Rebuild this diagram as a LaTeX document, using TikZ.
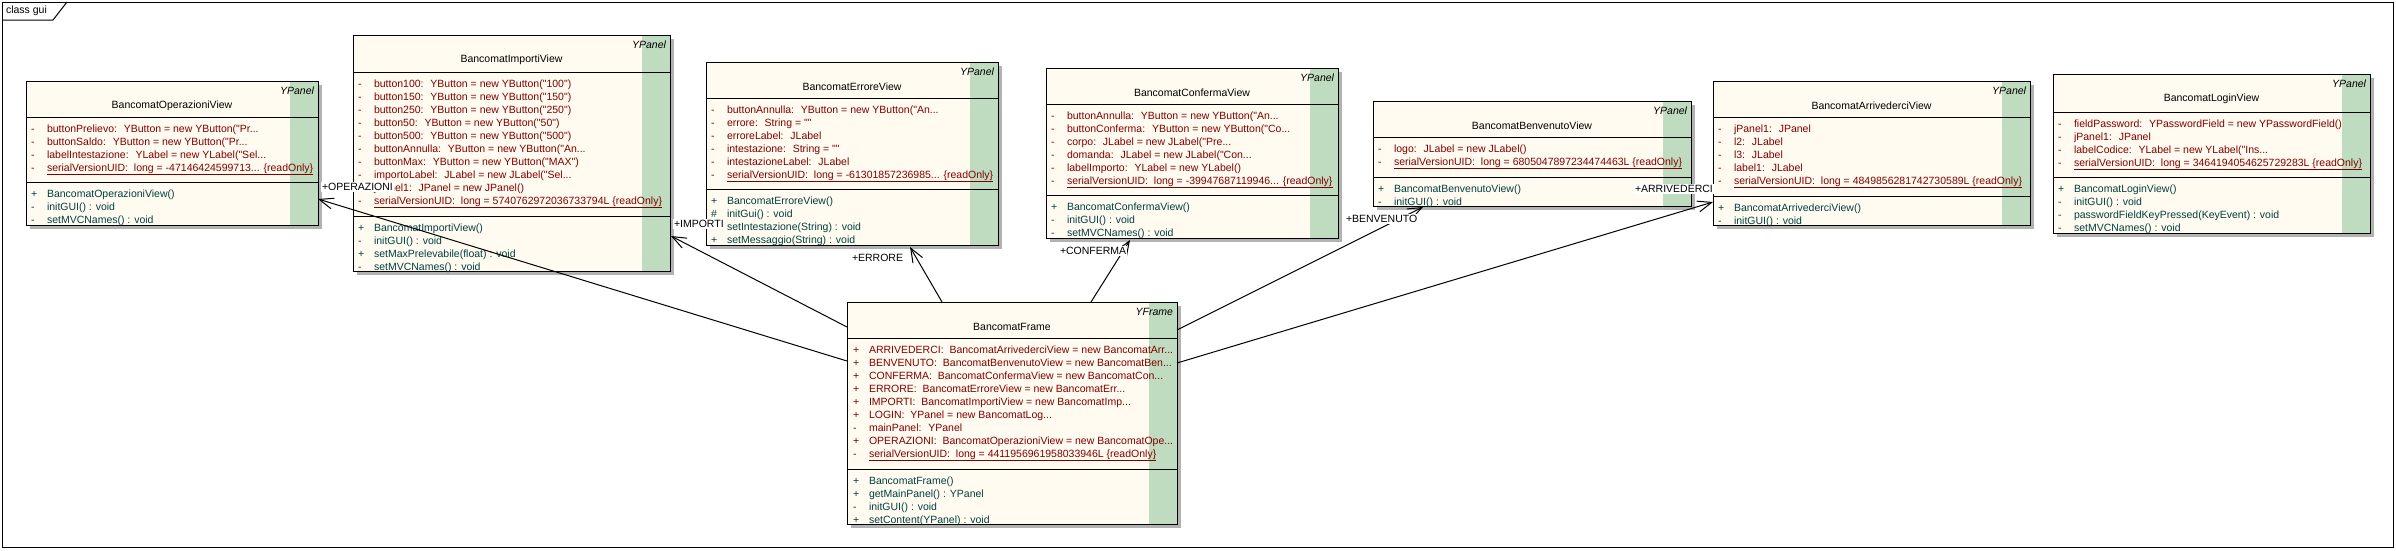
\documentclass[tikz,border=0pt]{standalone}
\usepackage{fontspec}
\setmainfont{Liberation Sans}
\newfontfamily\eafont{Liberation Sans}
\usetikzlibrary{arrows.meta,fit}

\definecolor{classfill}{RGB}{255,251,240}
\definecolor{stripegreen}{RGB}{192,220,192}
\definecolor{shadowgray}{RGB}{178,178,178}
\definecolor{attrred}{RGB}{128,0,0}
\definecolor{opteal}{RGB}{0,64,64}

\tikzset{
  eatext/.style={font=\eafont\fontsize{10.5}{12}\selectfont, inner sep=0pt, outer sep=0pt},
  attrrow/.style={eatext, text=attrred, anchor=base west},
  oprow/.style={eatext, text=opteal, anchor=base west},
  classname/.style={eatext, text=black},
  stereo/.style={eatext, font=\eafont\itshape\fontsize{10.5}{12}\selectfont, anchor=east},
  role/.style={eatext, fill=white, inner xsep=1pt, inner ysep=1.5pt, anchor=west},
  assoc/.style={-{Straight Barb[length=14pt,width=11pt]}, line width=1pt},
  boxline/.style={line width=1pt},
}

% #1 name, #2-#5 left top right bottom, #6 header line, #7 operations line, #8 stereotype, #9 class name
\newcommand{\umlclass}[9]{
  \fill[shadowgray] ({#2+4},{#3+4}) rectangle ({#4+4},{#5+4});
  \node[fit={(#2,#3) (#4,#5)}, fill=classfill, inner sep=0pt, outer sep=0pt] (#1) {};
  \fill[stripegreen] ([xshift=-28pt]#1.north east) rectangle (#1.south east);
  \draw[boxline] (#1.north west) rectangle (#1.south east);
  \draw[boxline] (#2,#6) -- (#4,#6);
  \draw[boxline] (#2,#7) -- (#4,#7);
  \node[stereo] (#1-st) at ({#4-4},{#3+10}) {#8};
  \node[classname] (#1-nm) at ({(#2+#4)/2},{#3+25}) {#9};
}
% #1 row style, #2 prefix, #3 left, #4 separator line, #5 rows
\newcommand{\members}[5]{
  \foreach \mvis/\mtxt [count=\i from 0] in {#5} {
    \node[#1] (#2-v\i) at ({#3+5},{#4+15+13*\i}) {\mvis};
    \node[#1] (#2-t\i) at ({#3+21},{#4+15+13*\i}) {\mtxt};
  }
}

\begin{document}
\begin{tikzpicture}[x=1pt,y=-1pt]
\useasboundingbox (0,0) rectangle (2396,550);

% diagram frame
\draw[boxline] (2,2) rectangle (2393,547);
\draw[boxline] (2,20) -- (53,20) -- (67,2);
\node[eatext, anchor=west] (diagname) at (6,11) {class gui};

% BancomatOperazioniView
\umlclass{operazioni}{26}{81}{318}{225}{117}{182}{YPanel}{BancomatOperazioniView}
\members{attrrow}{operazioni-a}{26}{117}{
  -/{buttonPrelievo:~ YButton = new YButton("Pr...},
  -/{buttonSaldo:~ YButton = new YButton("Pr...},
  -/{labelIntestazione:~ YLabel = new YLabel("Sel...},
  -/{\underline{serialVersionUID:~ long = -47146424599713... \{readOnly\}}}}
\members{oprow}{operazioni-o}{26}{182}{
  +/{BancomatOperazioniView()},
  -/{initGUI() : void},
  -/{setMVCNames() : void}}

% BancomatImportiView
\umlclass{importi}{353}{35}{670}{271}{72}{216}{YPanel}{BancomatImportiView}
\members{attrrow}{importi-a}{353}{72}{
  -/{button100:~ YButton = new YButton("100")},
  -/{button150:~ YButton = new YButton("150")},
  -/{button250:~ YButton = new YButton("250")},
  -/{button50:~ YButton = new YButton("50")},
  -/{button500:~ YButton = new YButton("500")},
  -/{buttonAnnulla:~ YButton = new YButton("An...},
  -/{buttonMax:~ YButton = new YButton("MAX")},
  -/{importoLabel:~ JLabel = new JLabel("Sel...},
  -/{jPanel1:~ JPanel = new JPanel()},
  -/{\underline{serialVersionUID:~ long = 5740762972036733794L \{readOnly\}}}}
\members{oprow}{importi-o}{353}{216}{
  +/{BancomatImportiView()},
  -/{initGUI() : void},
  +/{setMaxPrelevabile(float) : void},
  -/{setMVCNames() : void}}

% BancomatErroreView
\umlclass{errore}{706}{62}{998}{245}{98}{189}{YPanel}{BancomatErroreView}
\members{attrrow}{errore-a}{706}{98}{
  -/{buttonAnnulla:~ YButton = new YButton("An...},
  -/{errore:~ String = ""},
  -/{erroreLabel:~ JLabel},
  -/{intestazione:~ String = ""},
  -/{intestazioneLabel:~ JLabel},
  -/{\underline{serialVersionUID:~ long = -61301857236985... \{readOnly\}}}}
\members{oprow}{errore-o}{706}{189}{
  +/{BancomatErroreView()},
  \#/{initGui() : void},
  +/{setIntestazione(String) : void},
  +/{setMessaggio(String) : void}}

% BancomatConfermaView
\umlclass{conferma}{1046}{68}{1338}{238}{104}{195}{YPanel}{BancomatConfermaView}
\members{attrrow}{conferma-a}{1046}{104}{
  -/{buttonAnnulla:~ YButton = new YButton("An...},
  -/{buttonConferma:~ YButton = new YButton("Co...},
  -/{corpo:~ JLabel = new JLabel("Pre...},
  -/{domanda:~ JLabel = new JLabel("Con...},
  -/{labelImporto:~ YLabel = new YLabel()},
  -/{\underline{serialVersionUID:~ long = -39947687119946... \{readOnly\}}}}
\members{oprow}{conferma-o}{1046}{195}{
  +/{BancomatConfermaView()},
  -/{initGUI() : void},
  -/{setMVCNames() : void}}

% BancomatBenvenutoView
\umlclass{benvenuto}{1373}{101}{1691}{206}{137}{177}{YPanel}{BancomatBenvenutoView}
\members{attrrow}{benvenuto-a}{1373}{137}{
  -/{logo:~ JLabel = new JLabel()},
  -/{\underline{serialVersionUID:~ long = 6805047897234474463L \{readOnly\}}}}
\members{oprow}{benvenuto-o}{1373}{177}{
  +/{BancomatBenvenutoView()},
  -/{initGUI() : void}}

% BancomatArrivederciView
\umlclass{arrivederci}{1713}{81}{2030}{225}{117}{196}{YPanel}{BancomatArrivederciView}
\members{attrrow}{arrivederci-a}{1713}{117}{
  -/{jPanel1:~ JPanel},
  -/{l2:~ JLabel},
  -/{l3:~ JLabel},
  -/{label1:~ JLabel},
  -/{\underline{serialVersionUID:~ long = 4849856281742730589L \{readOnly\}}}}
\members{oprow}{arrivederci-o}{1713}{196}{
  +/{BancomatArrivederciView()},
  -/{initGUI() : void}}

% BancomatLoginView
\umlclass{login}{2053}{74}{2370}{233}{112}{177}{YPanel}{BancomatLoginView}
\members{attrrow}{login-a}{2053}{112}{
  -/{fieldPassword:~ YPasswordField = new YPasswordField()},
  -/{jPanel1:~ JPanel},
  -/{labelCodice:~ YLabel = new YLabel("Ins...},
  -/{\underline{serialVersionUID:~ long = 3464194054625729283L \{readOnly\}}}}
\members{oprow}{login-o}{2053}{177}{
  +/{BancomatLoginView()},
  -/{initGUI() : void},
  -/{passwordFieldKeyPressed(KeyEvent) : void},
  -/{setMVCNames() : void}}

% BancomatFrame
\umlclass{frame}{847}{302}{1177}{524}{338}{469}{YFrame}{BancomatFrame}
\members{attrrow}{frame-a}{848}{338}{
  +/{ARRIVEDERCI:~ BancomatArrivederciView = new BancomatArr...},
  +/{BENVENUTO:~ BancomatBenvenutoView = new BancomatBen...},
  +/{CONFERMA:~ BancomatConfermaView = new BancomatCon...},
  +/{ERRORE:~ BancomatErroreView = new BancomatErr...},
  +/{IMPORTI:~ BancomatImportiView = new BancomatImp...},
  +/{LOGIN:~ YPanel = new BancomatLog...},
  -/{mainPanel:~ YPanel},
  +/{OPERAZIONI:~ BancomatOperazioniView = new BancomatOpe...},
  -/{\underline{serialVersionUID:~ long = 4411956961958033946L \{readOnly\}}}}
\members{oprow}{frame-o}{848}{469}{
  +/{BancomatFrame()},
  +/{getMainPanel() : YPanel},
  -/{initGUI() : void},
  +/{setContent(YPanel) : void}}

% associations
\draw[assoc] ([yshift=-59pt]frame.north west) -- ([yshift=-118pt]operazioni.north east);
\draw[assoc] ([yshift=-25pt]frame.north west) -- ([xshift=1pt,yshift=-201pt]importi.north east);
\draw[assoc] ([xshift=95pt]frame.north west) -- ([xshift=204pt,yshift=-2pt]errore.south west);
\draw[assoc] ([xshift=244pt]frame.north west) -- ([xshift=84pt,yshift=-2pt]conferma.south west);
\draw[assoc] ([yshift=-28pt]frame.north east) -- ([xshift=50pt,yshift=-1pt]benvenuto.south west);
\draw[assoc] ([yshift=-61pt]frame.north east) -- ([yshift=-121pt]arrivederci.north west);

% role names
\node[role] (r-operazioni) at (321,187) {+OPERAZIONI};
\node[role] (r-importi) at (673,224) {+IMPORTI};
\node[role] (r-errore) at (851,258) {+ERRORE};
\node[role] (r-conferma) at (1059,251) {+CONFERMA};
\node[role] (r-benvenuto) at (1345,219) {+BENVENUTO};
\node[role] (r-arrivederci) at (1634,189) {+ARRIVEDERCI};
\end{tikzpicture}
\end{document}
